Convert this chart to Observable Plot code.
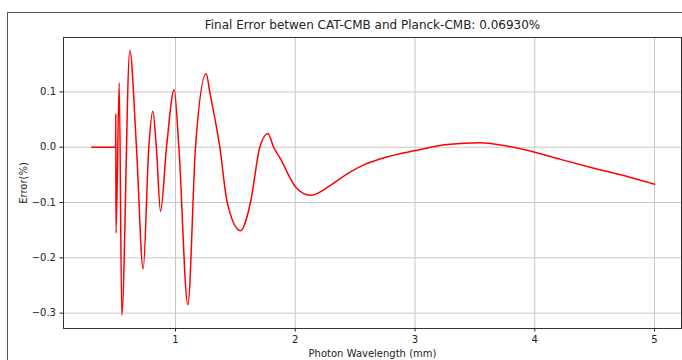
<!DOCTYPE html>
<html>
<head>
<meta charset="utf-8">
<script src="https://cdn.jsdelivr.net/npm/d3@7"></script>
<script src="https://cdn.jsdelivr.net/npm/@observablehq/plot@0.6"></script>
<style>
  html, body { margin: 0; padding: 0; background: #fff; overflow: hidden; }
  #wrap { position: relative; width: 682px; height: 360px; overflow: hidden; }
  #outer { position: absolute; left: 7px; top: 12px; width: 720px; height: 400px; border: 1px solid #555; box-sizing: border-box; }
  #chart { position: absolute; left: 0; top: 0; }
</style>
</head>
<body>
<div id="wrap"><div id="outer"></div><div id="chart"></div></div>
<script>
const title = "Final Error betwen CAT-CMB and Planck-CMB: 0.06930%";
const xLabel = "Photon Wavelength (mm)";
const yLabel = "Error(%)";
const xTicks = [1, 2, 3, 4, 5];
const yTicks = [-0.3, -0.2, -0.1, 0, 0.1];

const wavelength = [0.3, 0.5, 0.5015, 0.503, 0.530, 0.5516, 0.618, 0.674, 0.730, 0.777, 0.810, 0.840, 0.875, 0.925, 0.989, 1.028, 1.103, 1.167, 1.256, 1.286, 1.370, 1.432, 1.543, 1.626, 1.704, 1.771, 1.821, 1.877, 1.960, 2.002, 2.127, 2.294, 2.434, 2.572, 2.712, 3.004, 3.269, 3.547, 3.742, 4.0, 4.215, 4.493, 4.772, 5.0];
const errorPct = [0, 0, 0.060, -0.155, 0.116, -0.304, 0.175, 0, -0.220, 0, 0.065, 0, -0.116, 0, 0.104, 0, -0.285, 0, 0.133, 0.100, 0, -0.100, -0.151, -0.100, 0, 0.025, -0.001, -0.021, -0.057, -0.072, -0.087, -0.069, -0.048, -0.032, -0.021, -0.006, 0.005, 0.008, 0.003, -0.009, -0.022, -0.038, -0.053, -0.067];

const data = wavelength.map((w, i) => ({w, e: errorPct[i]}));
const fmtY = d => d.toFixed(1).replace("-", "\u2212");

const chart = Plot.plot({
  width: 682,
  height: 360,
  marginLeft: 63,
  marginRight: 1,
  marginTop: 37,
  marginBottom: 32,
  style: {fontFamily: "DejaVu Sans", fontSize: "10px", color: "#222", background: "transparent"},
  x: {domain: [0.0647, 5.225]},
  y: {domain: [-0.3278, 0.1984]},
  marks: [
    Plot.gridX(xTicks, {stroke: "#c8c8c8", strokeOpacity: 1, strokeWidth: 1}),
    Plot.gridY(yTicks, {stroke: "#c8c8c8", strokeOpacity: 1, strokeWidth: 1}),
    Plot.line(data, {x: "w", y: "e", stroke: "#ff0000", strokeWidth: 1.5, curve: "monotone-x"}),
    Plot.frame({stroke: "#333", strokeWidth: 1}),
    Plot.axisX({ticks: xTicks, tickSize: 3.5, tickPadding: 4, tickFormat: d => String(d), label: xLabel, labelAnchor: "center", labelOffset: 28, labelArrow: "none", fontSize: 10}),
    Plot.axisY({ticks: yTicks, tickSize: 3.5, tickPadding: 4, tickFormat: fmtY, label: yLabel, labelAnchor: "center", labelOffset: 44, labelArrow: "none", fontSize: 10}),
    Plot.text([title], {frameAnchor: "top", lineAnchor: "middle", dy: -12, fontSize: 12, fill: "#222"})
  ]
});
document.getElementById("chart").appendChild(chart);
</script>
</body>
</html>
